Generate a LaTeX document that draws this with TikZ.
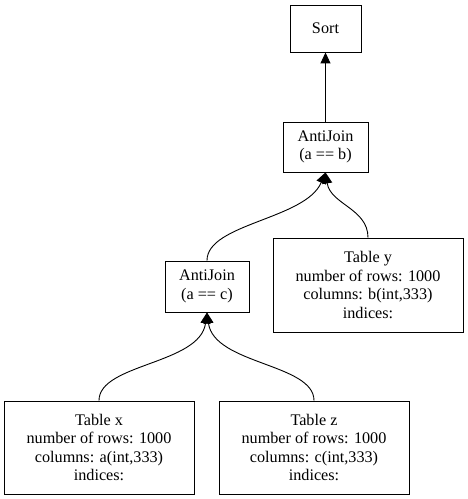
\documentclass[tikz,border=0pt]{standalone}
\usepackage{fontspec}
\setmainfont{Liberation Serif}
\usetikzlibrary{arrows.meta}
\begin{document}
\begin{tikzpicture}[x=1pt,y=1pt,
  box/.style={draw, line width=0.9pt, inner sep=0pt, align=center,
    font=\fontsize{16.2}{18.5}\selectfont},
  edge/.style={line width=0.9pt, -{Triangle[length=11pt,width=10pt]}}]
\useasboundingbox (0,0) rectangle (468,499);
\node[box, minimum width=71pt, minimum height=47pt] (sort) at (325.5,470.5) {Sort};
\node[box, minimum width=85pt, minimum height=50pt] (aj1) at (325.5,352) {AntiJoin\\(a == b)};
\node[box, minimum width=84pt, minimum height=51pt] (aj2) at (207,212.5) {AntiJoin\\(a == c)};
\node[box, minimum width=190pt, minimum height=94pt] (ty) at (368,214) {Table y\\number of rows: 1000\\columns: b(int,333)\\indices:};
\node[box, minimum width=190pt, minimum height=93pt] (tx) at (99,51.5) {Table x\\number of rows: 1000\\columns: a(int,333)\\indices:};
\node[box, minimum width=190pt, minimum height=93pt] (tz) at (314,51.5) {Table z\\number of rows: 1000\\columns: c(int,333)\\indices:};
\draw[edge] (aj1.north) -- (sort.south);
\draw[edge] (aj2.north) .. controls +(0,37) and +(-20,-47) .. (aj1.south);
\draw[edge] (ty.north) .. controls +(0,29) and +(5,-32) .. (aj1.south);
\draw[edge] (tx.north) .. controls +(0,37) and +(-7,-52) .. (aj2.south);
\draw[edge] (tz.north) .. controls +(0,37) and +(7,-52) .. (aj2.south);
\end{tikzpicture}
\end{document}
